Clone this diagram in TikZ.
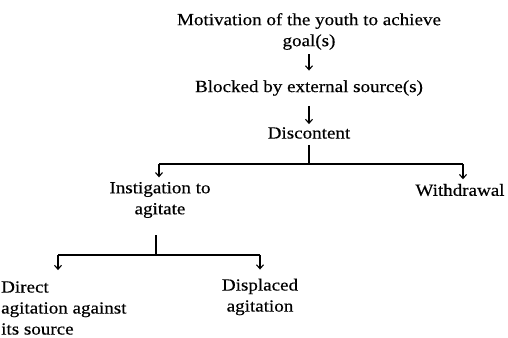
\documentclass[tikz,border=0pt]{standalone}
\usepackage{fontspec}
\setmainfont{Liberation Serif}[FakeStretch=1.12,FakeBold=0.4]
\usetikzlibrary{arrows.meta}
\begin{document}
\begin{tikzpicture}[x=1pt,y=1pt,
  txt/.style={inner sep=0pt,align=center,font=\fontsize{17}{21}\selectfont},
  ln/.style={line width=1.1pt},
  arr/.style={ln,-{Straight Barb[length=4pt,width=7pt]}}]
\useasboundingbox (0,0) rectangle (508,-337);
\node[txt] (mot) at (309,-31.5) {Motivation of the youth to achieve\\goal(s)};
\node[txt] (blk) at (309,-88) {Blocked by external source(s)};
\node[txt] (dis) at (309,-133) {Discontent};
\node[txt] (inst) at (160,-200) {Instigation to\\agitate};
\node[txt] (wd) at (460,-190) {Withdrawal};
\node[txt,align=left,anchor=west] (dir) at (1,-308) {Direct\\agitation against\\its source};
\node[txt] (dsp) at (260,-297) {Displaced\\agitation};
\draw[arr,shorten <=4pt,shorten >=9.5pt] (mot.south) -- (blk.north);
\draw[arr,shorten <=10pt,shorten >=3pt] (blk.south) -- (dis.north);
\coordinate (j1) at (309,-164);
\coordinate (b1) at (159,-164);
\coordinate (b2) at (463,-164);
\draw[ln,shorten <=6pt] (dis.south) -- (j1);
\draw[ln] (b1) -- (b2);
\draw[arr,shorten >=4.5pt] (b1) -- (b1 |- inst.north);
\draw[arr,shorten >=4.5pt] (b2) -- (b2 |- wd.north);
\coordinate (j2) at (156,-255);
\coordinate (c1) at (58,-255);
\coordinate (c2) at (260,-255);
\draw[ln,shorten <=17pt] (inst.south -| j2) -- (j2);
\draw[ln] (c1) -- (c2);
\draw[arr,shorten >=11pt] (c1) -- (c1 |- dir.north);
\draw[arr,shorten >=9pt] (c2) -- (c2 |- dsp.north);
\end{tikzpicture}
\end{document}
